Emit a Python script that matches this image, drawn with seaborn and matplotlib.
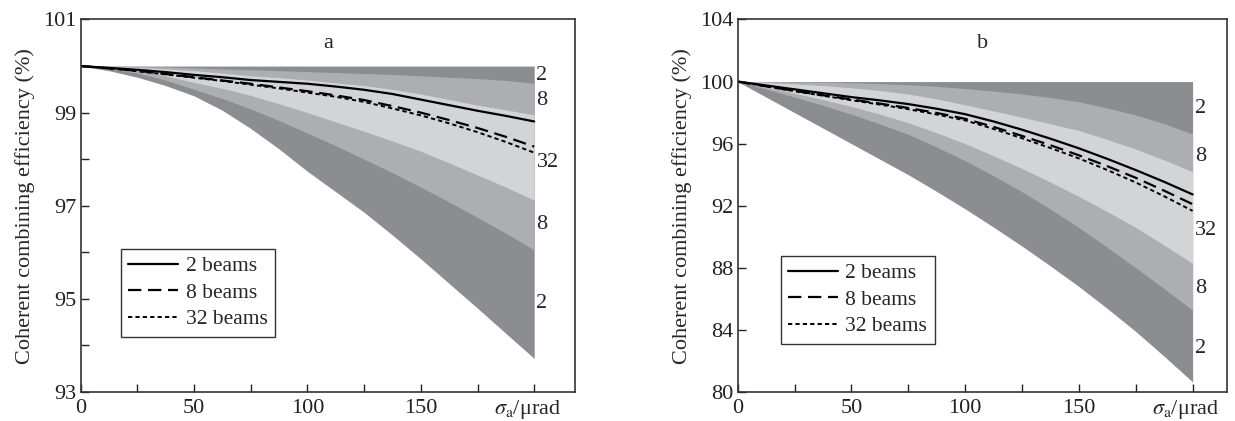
import matplotlib
matplotlib.use("Agg")
import matplotlib.pyplot as plt
import seaborn as sns

# ---------------- data ----------------
x_vals = [0, 12.5, 25, 37.5, 50, 62.5, 75, 87.5, 100, 112.5, 125, 137.5,
          150, 162.5, 175, 187.5, 200]

# panel a
a_top  = [100] * 17
a_lo2  = [100, 99.90, 99.76, 99.58, 99.36, 99.05, 98.66, 98.22, 97.74, 97.30,
          96.86, 96.37, 95.86, 95.33, 94.80, 94.26, 93.72]
a_up8  = [100, 100, 99.99, 99.98, 99.96, 99.94, 99.92, 99.90, 99.88, 99.86,
          99.84, 99.82, 99.79, 99.76, 99.73, 99.69, 99.63]
a_lo8  = [100, 99.94, 99.85, 99.70, 99.50, 99.30, 99.08, 98.83, 98.56, 98.29,
          98.00, 97.71, 97.40, 97.08, 96.75, 96.41, 96.05]
a_up32 = [100, 99.99, 99.97, 99.94, 99.90, 99.85, 99.79, 99.75, 99.70, 99.64,
          99.58, 99.50, 99.40, 99.28, 99.16, 99.06, 98.95]
a_lo32 = [100, 99.97, 99.90, 99.79, 99.65, 99.52, 99.37, 99.19, 99.00, 98.80,
          98.60, 98.39, 98.17, 97.92, 97.66, 97.40, 97.12]
a_m2   = [100, 99.96, 99.92, 99.87, 99.81, 99.76, 99.70, 99.66, 99.62, 99.56,
          99.49, 99.40, 99.28, 99.16, 99.04, 98.93, 98.81]
a_m8   = [100, 99.95, 99.90, 99.83, 99.76, 99.69, 99.62, 99.54, 99.46, 99.37,
          99.27, 99.14, 99.00, 98.84, 98.67, 98.48, 98.27]
a_m32  = [100, 99.95, 99.89, 99.82, 99.75, 99.68, 99.60, 99.52, 99.43, 99.34,
          99.23, 99.09, 98.94, 98.77, 98.58, 98.37, 98.14]

# panel b
b_top  = [100] * 17
b_lo2  = [100, 99.0, 98.0, 97.0, 96.0, 95.0, 94.0, 92.92, 91.8, 90.62, 89.4,
          88.12, 86.8, 85.38, 83.9, 82.3, 80.65]
b_up8  = [100, 100, 99.98, 99.96, 99.92, 99.87, 99.80, 99.69, 99.55, 99.39,
          99.20, 98.97, 98.70, 98.30, 97.85, 97.28, 96.62]
b_lo8  = [100, 99.52, 99.0, 98.47, 97.9, 97.27, 96.6, 95.78, 94.9, 93.93,
          92.9, 91.78, 90.6, 89.32, 88.0, 86.65, 85.27]
b_up32 = [100, 99.94, 99.85, 99.74, 99.60, 99.42, 99.20, 98.88, 98.50, 98.11,
          97.70, 97.28, 96.85, 96.27, 95.65, 94.95, 94.19]
b_lo32 = [100, 99.65, 99.25, 98.84, 98.40, 97.90, 97.35, 96.70, 96.00, 95.22,
          94.40, 93.52, 92.60, 91.62, 90.60, 89.46, 88.28]
b_m2   = [100, 99.75, 99.5, 99.25, 99.0, 98.79, 98.55, 98.25, 97.9, 97.43,
          96.9, 96.32, 95.7, 95.02, 94.3, 93.54, 92.73]
b_m8   = [100, 99.70, 99.4, 99.12, 98.85, 98.58, 98.3, 97.98, 97.6, 97.08,
          96.5, 95.9, 95.25, 94.55, 93.8, 92.97, 92.1]
b_m32  = [100, 99.69, 99.38, 99.09, 98.8, 98.52, 98.22, 97.88, 97.5, 96.95,
          96.35, 95.72, 95.05, 94.3, 93.5, 92.61, 91.67]

legend_labels = ["2 beams", "8 beams", "32 beams"]
band_labels = ["2", "8", "32", "8", "2"]
a_band_label_y = [99.79, 99.27, 97.92, 96.59, 94.91]
b_band_label_y = [98.27, 95.20, 90.43, 86.67, 82.80]
a_yticks = [93, 94, 95, 96, 97, 98, 99, 100, 101]
a_yticklabels = ["93", "", "95", "", "97", "", "99", "", "101"]
b_yticks = [80, 84, 88, 92, 96, 100, 104]
b_yticklabels = ["80", "84", "88", "92", "96", "100", "104"]
xticks = [0, 25, 50, 75, 100, 125, 150, 175, 200]
xticklabels = ["0", "", "50", "", "100", "", "150", "", ""]
panel_names = ["a", "b"]

# ---------------- style ----------------
sns.set_style("ticks")
plt.rcParams["font.family"] = ["Liberation Serif", "DejaVu Serif"]
plt.rcParams["mathtext.fontset"] = "stix"

DARK = "#8c8d91"
MED = "#adaeb2"
LIGHT = "#d3d4d6"
FS = 16
LFS = 15.5

fig = plt.figure(figsize=(12.35, 4.21), dpi=100)
axA = fig.add_axes([0.0653, 0.0689, 0.4003, 0.8848])
axB = fig.add_axes([0.5973, 0.0689, 0.3960, 0.8848])


def draw(ax, top, lo2, up8, lo8, up32, lo32, m2, m8, m32, ylim, yt, ytl,
         label_y, name, xlim, leg_anchor):
    ax.fill_between(x_vals, top, lo2, color=DARK, linewidth=0)
    ax.fill_between(x_vals, up8, lo8, color=MED, linewidth=0)
    ax.fill_between(x_vals, up32, lo32, color=LIGHT, linewidth=0)
    sns.lineplot(x=x_vals, y=m2, ax=ax, color="black", linewidth=1.6,
                 label=legend_labels[0])
    sns.lineplot(x=x_vals, y=m8, ax=ax, color="black", linewidth=1.6,
                 linestyle=(0, (6, 3)), label=legend_labels[1])
    sns.lineplot(x=x_vals, y=m32, ax=ax, color="black", linewidth=1.4,
                 linestyle=(0, (2.2, 1.6)), label=legend_labels[2])
    ax.set_xlim(*xlim)
    ax.set_ylim(*ylim)
    ax.set_xticks(xticks)
    ax.set_xticklabels(xticklabels)
    ax.set_yticks(yt)
    ax.set_yticklabels(ytl)
    ax.tick_params(direction="in", length=6, width=1, labelsize=FS,
                   colors="#222222", pad=3)
    ax.tick_params(axis="x", pad=5)
    for s in ax.spines.values():
        s.set_visible(True)
        s.set_linewidth(1.2)
        s.set_color("#333333")
    ax.set_xlabel("")
    ax.set_ylabel("Coherent combining efficiency (%)", fontsize=FS,
                  labelpad=6)
    ax.text(0.5, 0.936, name, transform=ax.transAxes, ha="center",
            va="center", fontsize=FS)
    for lab, yy in zip(band_labels, label_y):
        ax.text(201.0, yy, lab, ha="left", va="center", fontsize=FS)
    ax.text(197, -0.015, r"$\sigma_{\rm a}$/μrad",
            transform=ax.get_xaxis_transform(),
            ha="center", va="top", fontsize=FS)
    leg = ax.legend(loc="lower left", bbox_to_anchor=leg_anchor, fontsize=LFS,
                    frameon=True, fancybox=False, framealpha=1,
                    edgecolor="#333333", handlelength=2.3, handletextpad=0.35,
                    borderpad=0.35, labelspacing=0.3, borderaxespad=0)
    leg.get_frame().set_linewidth(1.0)


draw(axA, a_top, a_lo2, a_up8, a_lo8, a_up32, a_lo32, a_m2, a_m8, a_m32,
     (93, 101), a_yticks, a_yticklabels, a_band_label_y, panel_names[0],
     (0, 218), (0.0815, 0.148))
draw(axB, b_top, b_lo2, b_up8, b_lo8, b_up32, b_lo32, b_m2, b_m8, b_m32,
     (80, 104), b_yticks, b_yticklabels, b_band_label_y, panel_names[1],
     (0, 215), (0.088, 0.129))

fig.savefig("out.png", dpi=100)
